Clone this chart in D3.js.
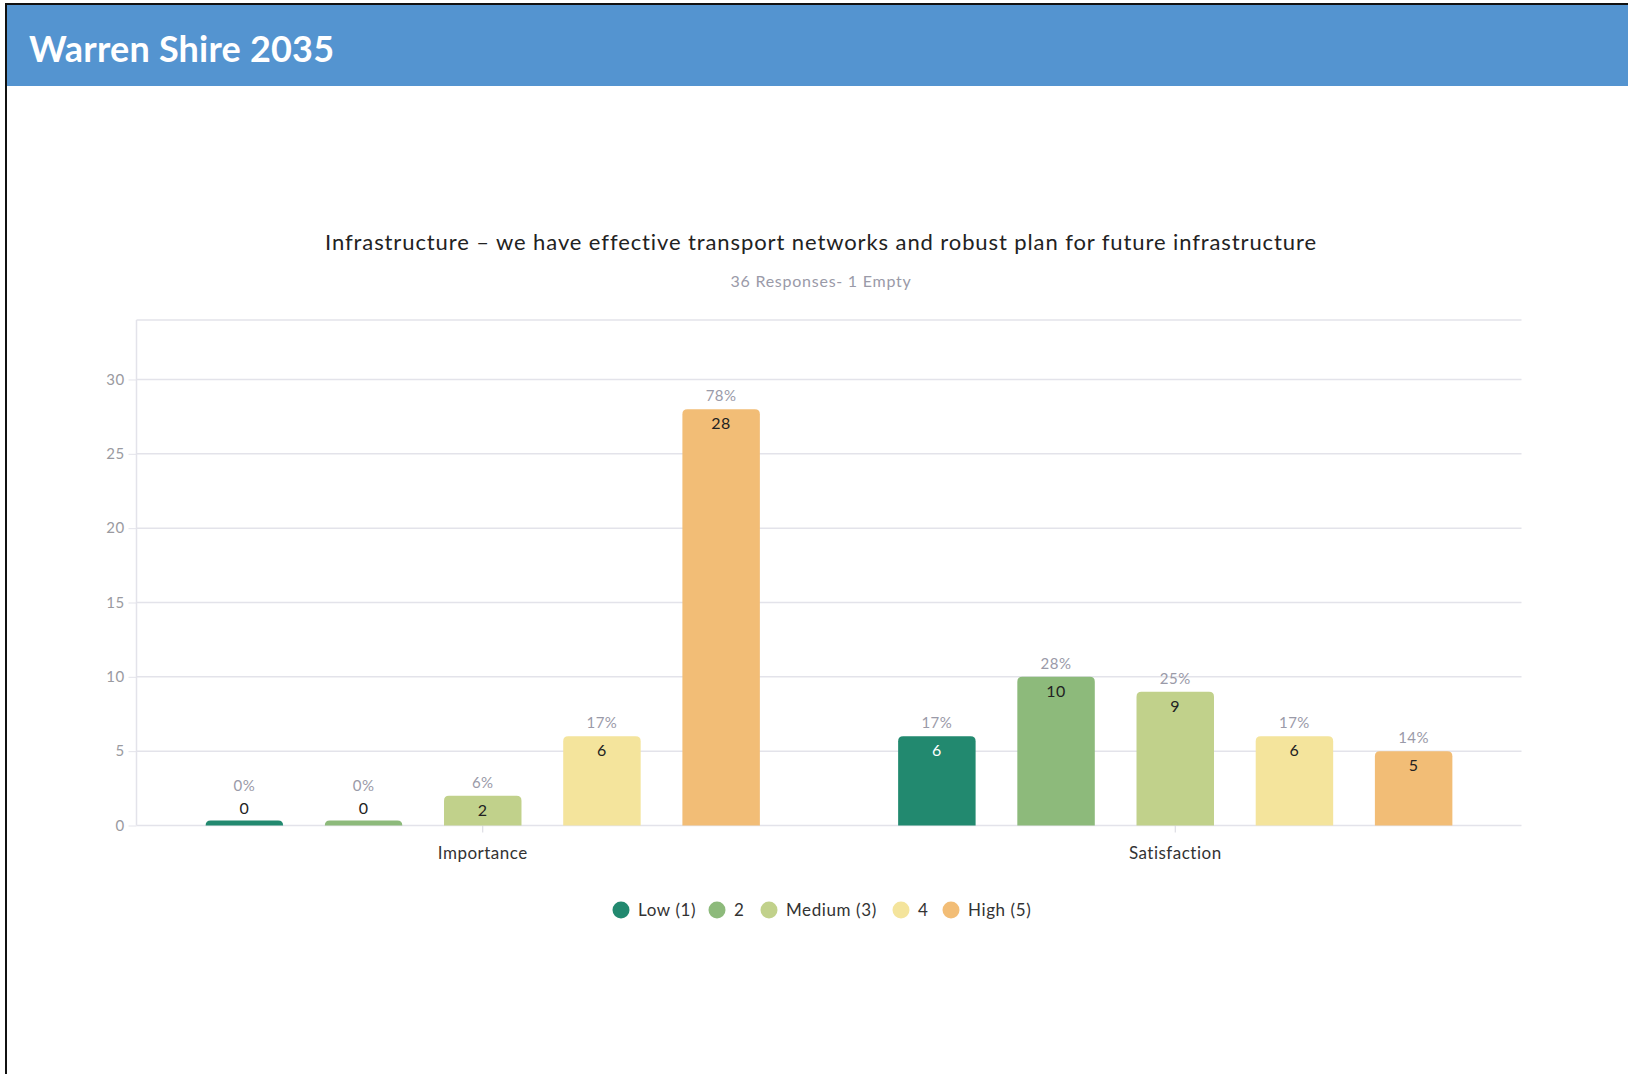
<!DOCTYPE html>
<html>
<head>
<meta charset="utf-8">
<script src="https://cdn.jsdelivr.net/npm/d3@7"></script>
<style>
  html, body { margin: 0; padding: 0; background: #fff; }
  svg { display: block; }
</style>
</head>
<body>
<svg id="chart" width="1628" height="1074"></svg>
<script>
// Survey question: two rated aspects, five-point scale
const groups = ["Importance", "Satisfaction"];
const levels = ["Low (1)", "2", "Medium (3)", "4", "High (5)"];
const levelColors = ["#22896f", "#8dba7b", "#c1d18b", "#f4e49c", "#f2bd76"];
const importanceCounts = [0, 0, 2, 6, 28];
const satisfactionCounts = [6, 10, 9, 6, 5];
const importancePercents = ["0%", "0%", "6%", "17%", "78%"];
const satisfactionPercents = ["17%", "28%", "25%", "17%", "14%"];
const yTicks = [0, 5, 10, 15, 20, 25, 30];

const pageTitle = "Warren Shire 2035";
const chartTitle = "Infrastructure \u2013 we have effective transport networks and robust plan for future infrastructure";
const chartSubtitle = "36 Responses- 1 Empty";

const font = "Lato, 'Open Sans', sans-serif";
const svg = d3.select("#chart");

// Page frame and header band
svg.append("rect").attr("x", 0).attr("y", 0).attr("width", 1628).attr("height", 1074).attr("fill", "#fff");
svg.append("rect").attr("x", 7).attr("y", 5).attr("width", 1621).attr("height", 81).attr("fill", "#5494d0");
svg.append("line").attr("x1", 5).attr("x2", 1628).attr("y1", 4).attr("y2", 4).attr("stroke", "#111").attr("stroke-width", 2);
svg.append("line").attr("x1", 6).attr("x2", 6).attr("y1", 3).attr("y2", 1074).attr("stroke", "#111").attr("stroke-width", 2);
svg.append("text").attr("x", 29).attr("y", 62)
  .attr("font-family", font).attr("font-weight", 700).attr("font-size", 36)
  .attr("letter-spacing", 0.2)
  .attr("fill", "#fff").text(pageTitle);

// Titles
svg.append("text").attr("x", 821).attr("y", 250).attr("text-anchor", "middle")
  .attr("font-family", font).attr("font-size", 22).attr("letter-spacing", 0.9)
  .attr("fill", "#222").text(chartTitle);
svg.append("text").attr("x", 821).attr("y", 287).attr("text-anchor", "middle")
  .attr("font-family", font).attr("font-size", 16).attr("letter-spacing", 0.75)
  .attr("fill", "#9a9aa8").text(chartSubtitle);

// Plot area
const plot = { left: 136.5, right: 1521.5, top: 320, bottom: 825.5 };

const y = d3.scaleLinear().domain([0, 34]).range([plot.bottom, plot.top]);
const x0 = d3.scaleBand().domain(groups).range([plot.left, plot.right]).padding(0);
const x1 = d3.scaleBand().domain(levels).range([0, x0.bandwidth()])
  .paddingInner(0.35).paddingOuter(0.58);

// Grid lines and y axis
const yAxis = d3.axisLeft(y).tickValues(yTicks).tickSize(8).tickPadding(4);
const gy = svg.append("g").attr("transform", `translate(${plot.left},0)`).call(yAxis);
gy.select(".domain").remove();
gy.selectAll(".tick line").attr("stroke", "#e3e3ea");
gy.selectAll(".tick text").attr("font-family", font).attr("font-size", 15)
  .attr("letter-spacing", 0.4).attr("fill", "#9a9aa0");

svg.append("g").selectAll("line").data(yTicks.concat([34])).join("line")
  .attr("x1", plot.left).attr("x2", plot.right)
  .attr("y1", d => y(d)).attr("y2", d => y(d))
  .attr("stroke", "#e3e3ea").attr("stroke-width", 1.5);
svg.append("line").attr("x1", plot.left).attr("x2", plot.left)
  .attr("y1", plot.top).attr("y2", plot.bottom)
  .attr("stroke", "#e3e3ea").attr("stroke-width", 1.5);

// X axis: group tick and labels
const xAxis = d3.axisBottom(x0).tickSize(7).tickPadding(14);
const gx = svg.append("g").attr("transform", `translate(0,${plot.bottom})`).call(xAxis);
gx.select(".domain").remove();
gx.selectAll(".tick line").attr("stroke", "#d6d6de");
gx.selectAll(".tick text").attr("font-family", font).attr("font-size", 17)
  .attr("letter-spacing", 0.5).attr("fill", "#333");

// Bars
const rows = [];
groups.forEach((g, gi) => {
  const counts = gi === 0 ? importanceCounts : satisfactionCounts;
  const pcts = gi === 0 ? importancePercents : satisfactionPercents;
  levels.forEach((lv, li) => rows.push({ group: g, level: lv, li, value: counts[li], pct: pcts[li] }));
});

const minBarHeight = 5;
const barTop = d => Math.min(y(d.value), plot.bottom - minBarHeight);
const r = 5;

function barPath(d) {
  const x = x0(d.group) + x1(d.level);
  const w = x1.bandwidth();
  const t = barTop(d);
  const b = plot.bottom;
  const rr = Math.min(r, (b - t));
  return `M${x},${b} L${x},${t + rr} Q${x},${t} ${x + rr},${t} L${x + w - rr},${t} Q${x + w},${t} ${x + w},${t + rr} L${x + w},${b} Z`;
}

svg.append("g").selectAll("path").data(rows).join("path")
  .attr("d", barPath)
  .attr("fill", d => levelColors[d.li]);

// Value and percent labels
const labels = svg.append("g").attr("font-family", font).attr("text-anchor", "middle");
rows.forEach(d => {
  const cx = x0(d.group) + x1(d.level) + x1.bandwidth() / 2;
  const t = barTop(d);
  const inside = plot.bottom - t > 22;
  labels.append("text").attr("x", cx).attr("y", inside ? t + 20 : t - 7)
    .attr("font-size", 16).attr("letter-spacing", 0.5)
    .attr("fill", inside && d.li === 0 ? "#fff" : "#222")
    .text(d.value);
  labels.append("text").attr("x", cx).attr("y", inside ? t - 8 : t - 30)
    .attr("font-size", 15).attr("letter-spacing", 0.5).attr("fill", "#9a9aa8")
    .text(d.pct);
});

// Legend
const legendX = [621, 717, 769, 901, 951];
const legend = svg.append("g").attr("font-family", font);
levels.forEach((lv, i) => {
  legend.append("circle").attr("cx", legendX[i]).attr("cy", 910).attr("r", 8.5).attr("fill", levelColors[i]);
  legend.append("text").attr("x", legendX[i] + 17).attr("y", 916)
    .attr("font-size", 17).attr("letter-spacing", 0.6)
    .attr("fill", "#333").text(lv);
});
</script>
</body>
</html>
